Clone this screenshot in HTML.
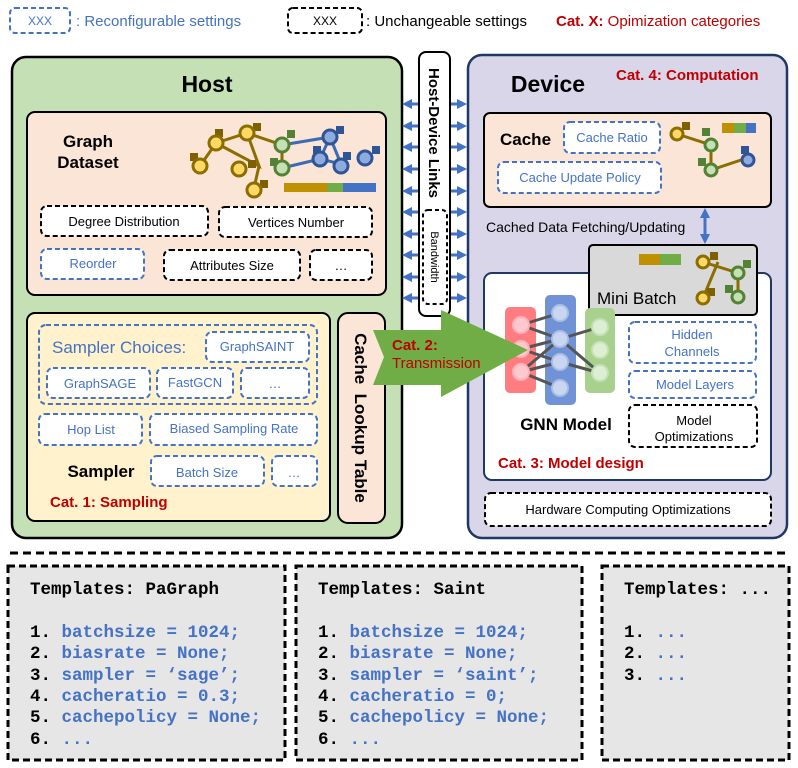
<!DOCTYPE html>
<html><head><meta charset="utf-8"><style>body{margin:0;background:#fff}svg{display:block}</style></head><body>
<svg width="798" height="768" viewBox="0 0 798 768" xmlns="http://www.w3.org/2000/svg" font-family="Liberation Sans, sans-serif">
<defs>
<marker id="ah" markerUnits="userSpaceOnUse" markerWidth="10" markerHeight="10" refX="5" refY="5" orient="auto-start-reverse"><path d="M0,0L10,5L0,10z" fill="#4472c4"/></marker>
</defs>
<g font-size="15">
<rect x="10" y="8" width="60" height="25" rx="5" fill="#fff" stroke="#4472c4" stroke-width="2" stroke-dasharray="5,3"/>
<text x="40" y="25" text-anchor="middle" font-size="12" fill="#4472c4">XXX</text>
<text x="76" y="26" fill="#4472c4">: Reconfigurable settings</text>
<rect x="288" y="8" width="74" height="25" rx="5" fill="#fff" stroke="#000" stroke-width="2" stroke-dasharray="5,3"/>
<text x="325" y="25" text-anchor="middle" font-size="12">XXX</text>
<text x="366" y="26">: Unchangeable settings</text>
<text x="556" y="26" fill="#c00000"><tspan font-weight="bold">Cat. X:</tspan> Opimization categories</text>
</g>
<!-- Host -->
<rect x="12" y="57" width="390" height="481" rx="14" fill="#c5e0b4" stroke="#000" stroke-width="2.5"/>
<text x="207" y="92" text-anchor="middle" font-size="23" font-weight="bold">Host</text>
<rect x="27" y="112" width="359" height="183" rx="8" fill="#fbe5d6" stroke="#000" stroke-width="2"/>
<text x="88" y="147" text-anchor="middle" font-size="17" font-weight="bold">Graph</text>
<text x="88" y="168" text-anchor="middle" font-size="17" font-weight="bold">Dataset</text>
<g stroke-width="3">
<path d="M200,166L216,143L247,133L259,166L216,143M247,133L282,145L282,168M259,166L254,188" stroke="#8c6d00" fill="none"/>
<path d="M282,145L330,137L320,159L341,164L330,137M282,168L320,159" stroke="#3d6bb3" fill="none"/>
<g fill="#7f6000"><rect x="190" y="153" width="8" height="8"/><rect x="215" y="129" width="8" height="8"/><rect x="253" y="123" width="8" height="8"/><rect x="248" y="160" width="8" height="8"/><rect x="260" y="180" width="8" height="8"/></g>
<g fill="#548235"><rect x="287" y="130" width="8" height="8"/><rect x="270" y="158" width="8" height="8"/></g>
<g fill="#2f5597"><rect x="336" y="126" width="8" height="8"/><rect x="313" y="146" width="8" height="8"/><rect x="343" y="152" width="8" height="8"/><rect x="372" y="146" width="8" height="8"/></g>
<g fill="#ffd966" stroke="#8c6d00"><circle cx="200" cy="166" r="7"/><circle cx="216" cy="143" r="7"/><circle cx="247" cy="133" r="7"/><circle cx="239" cy="169" r="7"/><circle cx="254" cy="190" r="7"/></g>
<g fill="#c5e0b4" stroke="#548235"><circle cx="282" cy="145" r="7"/><circle cx="282" cy="168" r="7"/></g>
<g fill="#8faadc" stroke="#2f5597"><circle cx="330" cy="137" r="7"/><circle cx="320" cy="159" r="7"/><circle cx="341" cy="166" r="7"/><circle cx="365" cy="158" r="7"/></g>
</g>
<rect x="284" y="183" width="43" height="9" fill="#bf9000"/><rect x="327" y="183" width="16" height="9" fill="#70ad47"/><rect x="343" y="183" width="33" height="9" fill="#4472c4"/>
<g font-size="13" text-anchor="middle">
<rect x="41" y="206" width="167" height="30" rx="6" fill="#fff" stroke="#000" stroke-width="2" stroke-dasharray="5,3"/><text x="124" y="226">Degree Distribution</text>
<rect x="219" y="207" width="153" height="30" rx="6" fill="#fff" stroke="#000" stroke-width="2" stroke-dasharray="5,3"/><text x="296" y="227">Vertices Number</text>
<rect x="41" y="249" width="103" height="30" rx="6" fill="#fff" stroke="#4472c4" stroke-width="2" stroke-dasharray="5,3"/><text x="93" y="268" fill="#4472c4">Reorder</text>
<rect x="164" y="250" width="136" height="30" rx="6" fill="#fff" stroke="#000" stroke-width="2" stroke-dasharray="5,3"/><text x="232" y="270">Attributes Size</text>
<rect x="310" y="250" width="62" height="30" rx="6" fill="#fff" stroke="#000" stroke-width="2" stroke-dasharray="5,3"/><text x="341" y="270">…</text>
</g>
<!-- Sampler -->
<rect x="27" y="313" width="303" height="208" rx="8" fill="#fff2cc" stroke="#000" stroke-width="2"/>
<rect x="39" y="325" width="278" height="79" rx="7" fill="none" stroke="#4472c4" stroke-width="2" stroke-dasharray="5,3"/>
<text x="52" y="353" font-size="17" fill="#4472c4">Sampler Choices:</text>
<g font-size="13" text-anchor="middle" fill="#4472c4">
<rect x="206" y="332" width="103" height="30" rx="6" fill="#fff" stroke="#4472c4" stroke-width="2" stroke-dasharray="5,3"/><text x="257" y="351" fill="#4472c4">GraphSAINT</text>
<rect x="47" y="368" width="103" height="30" rx="6" fill="#fff" stroke="#4472c4" stroke-width="2" stroke-dasharray="5,3"/><text x="100" y="388" fill="#4472c4">GraphSAGE</text>
<rect x="157" y="368" width="76" height="30" rx="6" fill="#fff" stroke="#4472c4" stroke-width="2" stroke-dasharray="5,3"/><text x="195" y="387" fill="#4472c4">FastGCN</text>
<rect x="241" y="368" width="68" height="30" rx="6" fill="#fff" stroke="#4472c4" stroke-width="2" stroke-dasharray="5,3"/><text x="275" y="388" fill="#4472c4">…</text>
<rect x="39" y="414" width="103" height="31" rx="6" fill="#fff" stroke="#4472c4" stroke-width="2" stroke-dasharray="5,3"/><text x="91" y="434" fill="#4472c4">Hop List</text>
<rect x="150" y="414" width="167" height="31" rx="6" fill="#fff" stroke="#4472c4" stroke-width="2" stroke-dasharray="5,3"/><text x="234" y="433" fill="#4472c4">Biased Sampling Rate</text>
<rect x="151" y="456" width="113" height="30" rx="6" fill="#fff" stroke="#4472c4" stroke-width="2" stroke-dasharray="5,3"/><text x="207" y="477" fill="#4472c4">Batch Size</text>
<rect x="272" y="456" width="45" height="30" rx="6" fill="#fff" stroke="#4472c4" stroke-width="2" stroke-dasharray="5,3"/><text x="294" y="477" fill="#4472c4">…</text>
</g>
<text x="101" y="477" text-anchor="middle" font-size="17" font-weight="bold">Sampler</text>
<text x="50" y="507" font-size="15" font-weight="bold" fill="#c00000">Cat. 1: Sampling</text>
<rect x="338" y="313" width="47" height="210" rx="10" fill="#fbe5d6" stroke="#000" stroke-width="2"/>
<text transform="translate(355,418) rotate(90)" text-anchor="middle" font-size="17" font-weight="bold" xml:space="preserve">Cache  Lookup Table</text>
<!-- Links -->
<g stroke="#4472c4" stroke-width="3" marker-start="url(#ah)" marker-end="url(#ah)">
<line x1="407" y1="104" x2="462" y2="104"/><line x1="407" y1="126" x2="462" y2="126"/><line x1="407" y1="147" x2="462" y2="147"/><line x1="407" y1="169" x2="462" y2="169"/><line x1="407" y1="191" x2="462" y2="191"/><line x1="407" y1="212" x2="462" y2="212"/><line x1="407" y1="234" x2="462" y2="234"/><line x1="407" y1="255" x2="462" y2="255"/><line x1="407" y1="277" x2="462" y2="277"/><line x1="407" y1="298" x2="462" y2="298"/>
</g>
<rect x="419" y="52" width="31" height="264" rx="7" fill="#fff" stroke="#000" stroke-width="2"/>
<text transform="translate(429,133) rotate(90)" text-anchor="middle" font-size="15" font-weight="bold">Host-Device Links</text>
<rect x="423" y="210" width="24" height="94" rx="5" fill="#fff" stroke="#000" stroke-width="2" stroke-dasharray="4,3"/>
<text transform="translate(431,257) rotate(90)" text-anchor="middle" font-size="11">Bandwidth</text>
<!-- Device -->
<rect x="468" y="55" width="319" height="483" rx="14" fill="#dad6ea" stroke="#1f3864" stroke-width="2.5"/>
<text x="548" y="92" text-anchor="middle" font-size="23" font-weight="bold">Device</text>
<text x="616" y="80" font-size="15" font-weight="bold" fill="#c00000">Cat. 4: Computation</text>
<rect x="484" y="113" width="287" height="94" rx="6" fill="#fbe5d6" stroke="#000" stroke-width="2"/>
<text x="500" y="145" font-size="17" font-weight="bold">Cache</text>
<g font-size="13" text-anchor="middle" fill="#4472c4">
<rect x="564" y="122" width="96" height="31" rx="6" fill="#fff" stroke="#4472c4" stroke-width="2" stroke-dasharray="5,3"/><text x="612" y="142" fill="#4472c4">Cache Ratio</text>
<rect x="498" y="162" width="163" height="31" rx="6" fill="#fff" stroke="#4472c4" stroke-width="2" stroke-dasharray="5,3"/><text x="580" y="182" fill="#4472c4">Cache Update Policy</text>
</g>
<g stroke-width="3">
<path d="M677,134L711,145L711,170L747,158" stroke="#8c6d00" fill="none"/>
<g fill="#7f6000"><rect x="682" y="122" width="8" height="8"/></g><g fill="#548235"><rect x="702" y="128" width="8" height="8"/><rect x="698" y="158" width="8" height="8"/></g><g fill="#2f5597"><rect x="741" y="146" width="8" height="8"/></g>
<circle cx="677" cy="134" r="6" fill="#ffd966" stroke="#8c6d00"/><circle cx="711" cy="145" r="6" fill="#c5e0b4" stroke="#548235"/><circle cx="711" cy="170" r="6" fill="#c5e0b4" stroke="#548235"/><circle cx="748" cy="160" r="6" fill="#8faadc" stroke="#2f5597"/>
</g>
<rect x="722" y="123" width="12" height="10" fill="#bf9000"/><rect x="734" y="123" width="12" height="10" fill="#70ad47"/><rect x="746" y="123" width="10" height="10" fill="#4472c4"/>
<text x="486" y="232" font-size="14">Cached Data Fetching/Updating</text>
<line x1="705" y1="213" x2="705" y2="239" stroke="#4472c4" stroke-width="3" marker-start="url(#ah)" marker-end="url(#ah)"/>
<rect x="484" y="273" width="287" height="207" rx="8" fill="#fff" stroke="#1f3864" stroke-width="2"/>
<rect x="589" y="245" width="168" height="70" rx="4" fill="#d9d9d9" stroke="#000" stroke-width="2"/>
<text x="597" y="304" font-size="17">Mini Batch</text>
<rect x="639" y="254" width="42" height="11" fill="#bf9000"/><rect x="660" y="254" width="21" height="11" fill="#70ad47"/>
<g stroke-width="3">
<path d="M703,262L738,273L738,297M703,298L718,262" stroke="#8c6d00" fill="none"/>
<rect x="710" y="252" width="8" height="8" fill="#7f6000"/><rect x="707" y="288" width="8" height="8" fill="#7f6000"/><rect x="743" y="260" width="8" height="8" fill="#548235"/><rect x="725" y="285" width="8" height="8" fill="#548235"/>
<circle cx="703" cy="262" r="6" fill="#ffd966" stroke="#8c6d00"/><circle cx="703" cy="298" r="6" fill="#ffd966" stroke="#8c6d00"/><circle cx="738" cy="273" r="6" fill="#c5e0b4" stroke="#548235"/><circle cx="738" cy="297" r="6" fill="#c5e0b4" stroke="#548235"/>
</g>
<!-- GNN -->
<rect x="505" y="307" width="31" height="86" rx="5" fill="#ff7c80"/>
<rect x="545" y="295" width="31" height="110" rx="5" fill="#6f93d6"/>
<rect x="585" y="308" width="30" height="85" rx="5" fill="#a9d18e"/>
<g stroke="#555" stroke-width="3">
<line x1="521" y1="325" x2="560" y2="313"/><line x1="521" y1="325" x2="560" y2="339"/><line x1="521" y1="349" x2="560" y2="339"/><line x1="521" y1="372" x2="560" y2="362"/><line x1="521" y1="349" x2="560" y2="362"/><line x1="521" y1="372" x2="560" y2="388"/><line x1="521" y1="372" x2="560" y2="339"/><line x1="560" y1="339" x2="600" y2="327"/><line x1="560" y1="339" x2="600" y2="373"/><line x1="560" y1="362" x2="600" y2="373"/>
</g>
<g fill="#ffc7ce" stroke="#ffb0b8" stroke-width="2"><circle cx="521" cy="325" r="8"/><circle cx="521" cy="349" r="8"/><circle cx="521" cy="372" r="8"/></g>
<g fill="#c9d6f0" stroke="#a9bde6" stroke-width="2"><circle cx="560" cy="313" r="8"/><circle cx="560" cy="339" r="8"/><circle cx="560" cy="362" r="8"/><circle cx="560" cy="388" r="8"/></g>
<g fill="#dcefd2" stroke="#c5e0b4" stroke-width="2"><circle cx="600" cy="327" r="8"/><circle cx="600" cy="350" r="8"/><circle cx="600" cy="373" r="8"/></g>
<text x="566" y="430" text-anchor="middle" font-size="17" font-weight="bold">GNN Model</text>
<g font-size="13" text-anchor="middle">
<rect x="629" y="322" width="127" height="41" rx="6" fill="#fff" stroke="#4472c4" stroke-width="2" stroke-dasharray="5,3"/><text x="692" y="339" fill="#4472c4">Hidden</text><text x="692" y="356" fill="#4472c4">Channels</text>
<rect x="629" y="371" width="127" height="27" rx="6" fill="#fff" stroke="#4472c4" stroke-width="2" stroke-dasharray="5,3"/><text x="695" y="389" fill="#4472c4">Model Layers</text>
<rect x="629" y="405" width="128" height="42" rx="6" fill="#fff" stroke="#000" stroke-width="2" stroke-dasharray="5,3"/><text x="694" y="425">Model</text><text x="694" y="441">Optimizations</text>
<rect x="485" y="493" width="286" height="33" rx="6" fill="#fff" stroke="#000" stroke-width="2" stroke-dasharray="5,3"/><text x="628" y="514">Hardware Computing Optimizations</text>
</g>
<text x="498" y="468" font-size="15" font-weight="bold" fill="#c00000">Cat. 3: Model design</text>
<!-- Green arrow -->
<polygon points="373,330 441,330 441,310 528,350 441,397 441,385 373,385 384,357" fill="#70ad47"/>
<text x="392" y="350" font-size="15" font-weight="bold" fill="#c00000">Cat. 2:</text>
<text x="392" y="368" font-size="15" fill="#c00000">Transmission</text>
<!-- Bottom -->
<line x1="10" y1="553" x2="790" y2="553" stroke="#000" stroke-width="3" stroke-dasharray="8,5"/>
<g font-family="Liberation Mono, monospace" font-size="17.5" font-weight="bold">
<rect x="8" y="566" width="277" height="194" fill="#e7e6e6" stroke="#000" stroke-width="3" stroke-dasharray="7,4"/>
<text x="30" y="594">Templates: PaGraph</text>
<text x="30" y="637">1. <tspan fill="#4472c4">batchsize = 1024;</tspan></text>
<text x="30" y="658">2. <tspan fill="#4472c4">biasrate = None;</tspan></text>
<text x="30" y="680">3. <tspan fill="#4472c4">sampler = ‘sage’;</tspan></text>
<text x="30" y="701">4. <tspan fill="#4472c4">cacheratio = 0.3;</tspan></text>
<text x="30" y="722">5. <tspan fill="#4472c4">cachepolicy = None;</tspan></text>
<text x="30" y="744">6. <tspan fill="#4472c4">...</tspan></text>
<rect x="296" y="566" width="286" height="194" fill="#e7e6e6" stroke="#000" stroke-width="3" stroke-dasharray="7,4"/>
<text x="318" y="594">Templates: Saint</text>
<text x="318" y="637">1. <tspan fill="#4472c4">batchsize = 1024;</tspan></text>
<text x="318" y="658">2. <tspan fill="#4472c4">biasrate = None;</tspan></text>
<text x="318" y="680">3. <tspan fill="#4472c4">sampler = ‘saint’;</tspan></text>
<text x="318" y="701">4. <tspan fill="#4472c4">cacheratio = 0;</tspan></text>
<text x="318" y="722">5. <tspan fill="#4472c4">cachepolicy = None;</tspan></text>
<text x="318" y="744">6. <tspan fill="#4472c4">...</tspan></text>
<rect x="602" y="566" width="187" height="194" fill="#e7e6e6" stroke="#000" stroke-width="3" stroke-dasharray="7,4"/>
<text x="624" y="594">Templates: ...</text>
<text x="624" y="637">1. <tspan fill="#4472c4">...</tspan></text>
<text x="624" y="658">2. <tspan fill="#4472c4">...</tspan></text>
<text x="624" y="680">3. <tspan fill="#4472c4">...</tspan></text>
</g>
</svg>
</body></html>
